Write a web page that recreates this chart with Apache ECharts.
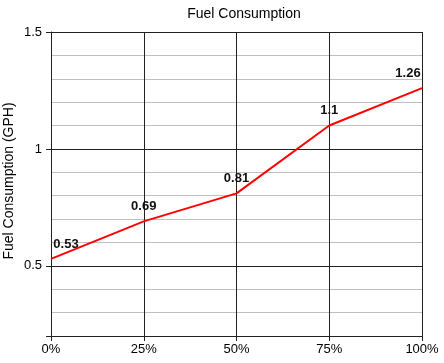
<!DOCTYPE html>
<html><head><meta charset="utf-8">
<script src="https://cdn.jsdelivr.net/npm/echarts@6/dist/echarts.min.js"></script>
<style>html,body{margin:0;padding:0;background:#fff}#c{width:444px;height:363px}</style>
</head><body><div id="c"></div>
<script>
var categories = ['0%', '25%', '50%', '75%', '100%'];
var fuelValues = [0.53, 0.69, 0.81, 1.1, 1.26];
var yTickLabels = [0.5, 1, 1.5];

var labelOffsets = [[15, 1], [0, 0], [0, 0], [0, 0], [-14, 0]];
var chart = echarts.init(document.getElementById('c'), null, {renderer: 'canvas'});
var dark = '#222';
var light = '#c0c0c0';
var font = 'Liberation Sans';
chart.setOption({
  animation: false,
  title: {text: 'Fuel Consumption', left: 239, top: 2, textAlign: 'center',
    textStyle: {fontFamily: font, fontSize: 14, fontWeight: 'normal', color: '#000'}},
  grid: {left: 51, right: 22, top: 32, bottom: 27, containLabel: false, outerBoundsMode: 'none'},
  xAxis: {
    type: 'category', data: categories, boundaryGap: false,
    axisLine: {lineStyle: {color: dark, width: 1}},
    axisTick: {show: true, length: 5, lineStyle: {color: dark}},
    axisLabel: {fontFamily: font, fontSize: 13, color: '#000', margin: 7},
    splitLine: {show: true, lineStyle: {color: dark, width: 1}}
  },
  yAxis: [{
    type: 'value', min: 0.2, max: 1.5, interval: 0.1,
    axisLine: {show: true, lineStyle: {color: dark, width: 1}},
    axisTick: {show: false},
    axisLabel: {show: false},
    splitLine: {show: true, lineStyle: {color: [light, light, light, dark, light], width: 1}}
  }, {
    type: 'value', min: 0.2, max: 1.5, position: 'left',
    name: 'Fuel Consumption (GPH)', nameLocation: 'middle', nameGap: 35, nameMoveOverlap: false,
    nameTextStyle: {fontFamily: font, fontSize: 14, color: '#000', padding: [0, 0, 0, 6]},
    axisLine: {show: false},
    axisTick: {show: true, length: 5, customValues: [0.2].concat(yTickLabels), lineStyle: {color: dark}},
    axisLabel: {customValues: yTickLabels, fontFamily: font, fontSize: 13, color: '#000', margin: 9,
      formatter: function (v) { return String(+(+v).toFixed(2)); }},
    splitLine: {show: false}
  }],
  series: [{
    type: 'line', yAxisIndex: 0, showSymbol: true, symbol: 'circle', symbolSize: 1,
    itemStyle: {color: 'rgba(255,0,0,0)'},
    lineStyle: {color: '#ff0000', width: 2},
    data: fuelValues.map(function (v, i) {
      return {value: v, label: {offset: labelOffsets[i]}};
    }),
    label: {show: true, position: 'top', distance: 8, fontFamily: font, fontSize: 13,
      fontWeight: 'bold', color: '#111', opacity: 1}
  }]
});
</script></body></html>
